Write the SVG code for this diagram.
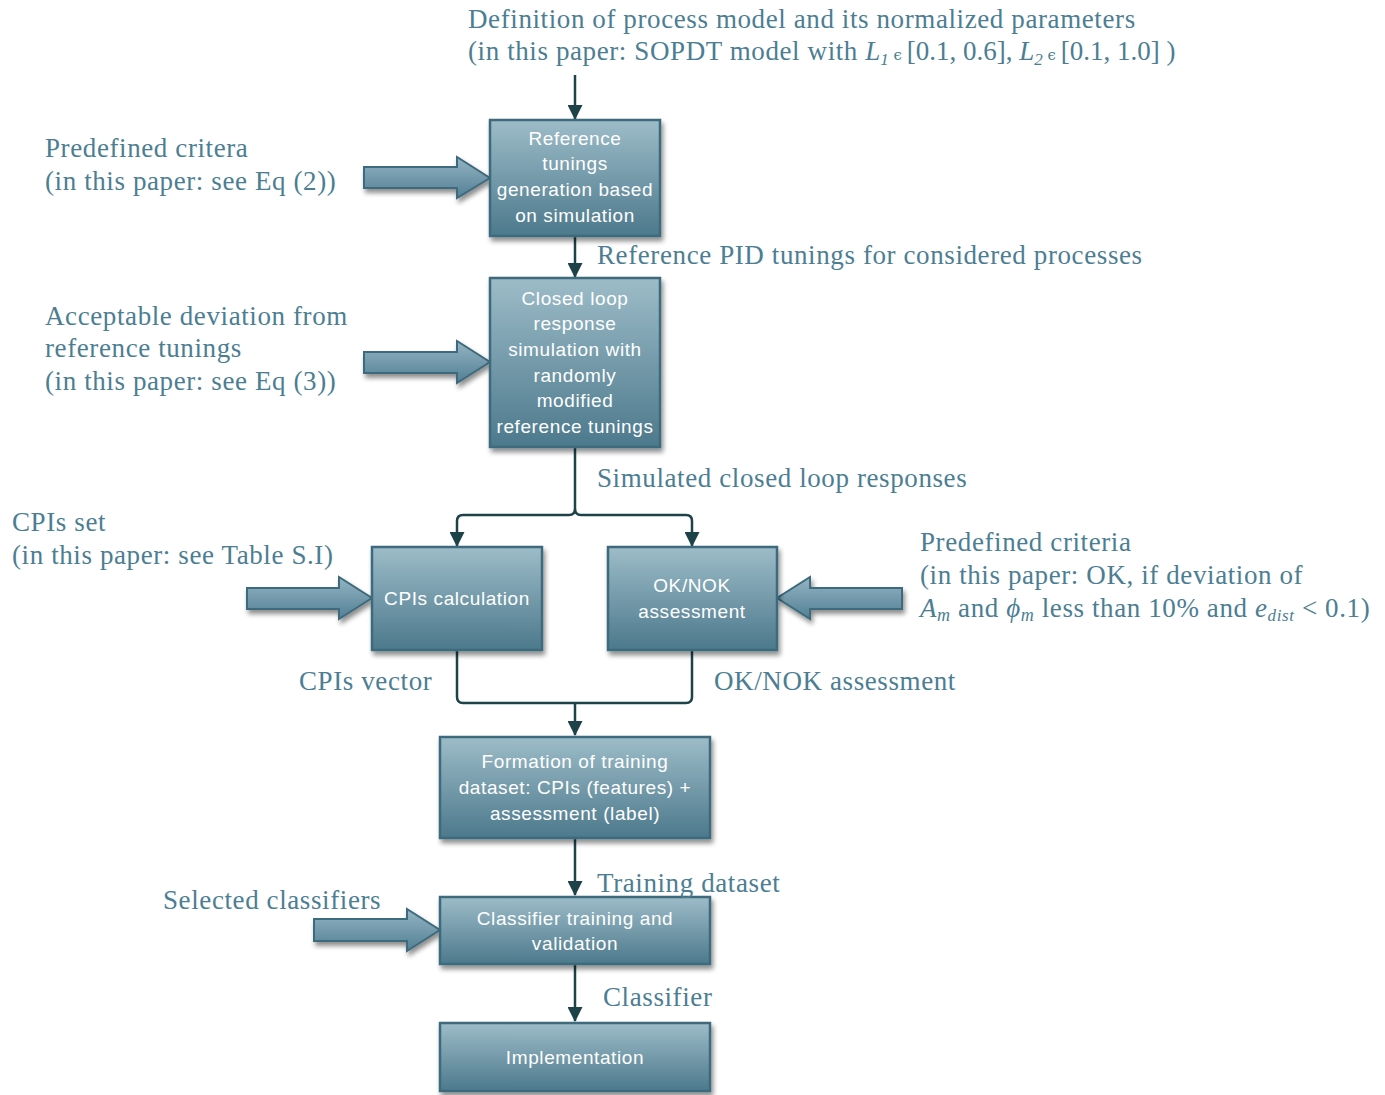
<svg xmlns="http://www.w3.org/2000/svg" width="1385" height="1095" viewBox="0 0 1385 1095">
<defs>
<linearGradient id="boxg" x1="0" y1="0" x2="0" y2="1">
<stop offset="0" stop-color="#9dbcc8"/>
<stop offset="1" stop-color="#4c798c"/>
</linearGradient>
<linearGradient id="arrg2" x1="0" y1="0" x2="0" y2="1">
<stop offset="0" stop-color="#94b5c3"/>
<stop offset="1" stop-color="#527f95"/>
</linearGradient>
<filter id="sh" x="-10%" y="-10%" width="125%" height="130%">
<feGaussianBlur in="SourceAlpha" stdDeviation="2.5"/>
<feOffset dx="2" dy="4" result="b"/>
<feComponentTransfer><feFuncA type="linear" slope="0.45"/></feComponentTransfer>
<feMerge><feMergeNode/><feMergeNode in="SourceGraphic"/></feMerge>
</filter>
<marker id="ah" markerWidth="15" markerHeight="15" viewBox="0 0 15 15" refX="14" refY="7.5" orient="auto" markerUnits="userSpaceOnUse">
<path d="M0,0 L15,7.5 L0,15 Z" fill="#1d4349"/>
</marker>
</defs>
<style>
.box{fill:url(#boxg);stroke:#3e6a7b;stroke-width:2.5;filter:url(#sh)}
.bt{font-family:"Liberation Sans",Arial,sans-serif;font-size:19px;letter-spacing:0.6px;fill:#ffffff;text-anchor:middle}
.lbl{font-family:"Liberation Serif","Times New Roman",serif;font-size:27px;letter-spacing:0.6px;fill:#4b7e93}
.con{fill:none;stroke:#1d4349;stroke-width:2.5}
.blk{fill:url(#arrg2);stroke:#3e6a7b;stroke-width:2;filter:url(#sh)}
.it{font-style:italic}
.m{letter-spacing:0}
</style>

<g id="connectors">
<path class="con" d="M575,75 V119" marker-end="url(#ah)"/>
<path class="con" d="M575,236 V277" marker-end="url(#ah)"/>
<path class="con" d="M575,448 V509 Q575,515 569,515 H463 Q457,515 457,521 V546" marker-end="url(#ah)"/>
<path class="con" d="M575,509 Q575,515 581,515 H686 Q692,515 692,521 V546" marker-end="url(#ah)"/>
<path class="con" d="M457,651 V697 Q457,703 463,703 H686 Q692,703 692,697 V651"/>
<path class="con" d="M575,703 V735" marker-end="url(#ah)"/>
<path class="con" d="M575,839 V895" marker-end="url(#ah)"/>
<path class="con" d="M575,965 V1021" marker-end="url(#ah)"/>
</g>

<g id="input-arrows">
<path class="blk" d="M364,167 H457 V157 L490,178 L457,198 V188 H364 Z"/>
<path class="blk" d="M364,352 H457 V341 L490,362 L457,383 V373 H364 Z"/>
<path class="blk" d="M247,588 H339 V577 L372,598 L339,619 V609 H247 Z"/>
<path class="blk" d="M902,588 H810 V577 L777,598 L810,619 V609 H902 Z"/>
<path class="blk" d="M314,919 H407 V909 L440,930 L407,951 V941 H314 Z"/>
</g>

<g id="n-reference">
<rect class="box" x="490" y="120" width="170" height="116"/>
<text class="bt" x="575" y="145">Reference</text>
<text class="bt" x="575" y="170">tunings</text>
<text class="bt" x="575" y="196">generation based</text>
<text class="bt" x="575" y="222">on simulation</text>
</g>

<g id="n-closedloop">
<rect class="box" x="490" y="278" width="170" height="169"/>
<text class="bt" x="575" y="305">Closed loop</text>
<text class="bt" x="575" y="330">response</text>
<text class="bt" x="575" y="356">simulation with</text>
<text class="bt" x="575" y="382">randomly</text>
<text class="bt" x="575" y="407">modified</text>
<text class="bt" x="575" y="433">reference tunings</text>
</g>

<g id="n-cpis">
<rect class="box" x="372" y="547" width="170" height="103"/>
<text class="bt" x="457" y="605">CPIs calculation</text>
</g>

<g id="n-oknok">
<rect class="box" x="608" y="547" width="169" height="103"/>
<text class="bt" x="692" y="592">OK/NOK</text>
<text class="bt" x="692" y="618">assessment</text>
</g>

<g id="n-formation">
<rect class="box" x="440" y="737" width="270" height="101"/>
<text class="bt" x="575" y="768">Formation of training</text>
<text class="bt" x="575" y="794">dataset: CPIs (features) +</text>
<text class="bt" x="575" y="820">assessment (label)</text>
</g>

<g id="n-classifier">
<rect class="box" x="440" y="897" width="270" height="67"/>
<text class="bt" x="575" y="925">Classifier training and</text>
<text class="bt" x="575" y="950">validation</text>
</g>

<g id="n-impl">
<rect class="box" x="440" y="1023" width="270" height="68"/>
<text class="bt" x="575" y="1064">Implementation</text>
</g>

<g id="labels">
<text class="lbl" x="468" y="28">Definition of process model and its normalized parameters</text>
<text class="lbl" x="468" y="60">(in this paper: SOPDT model with <tspan class="m"><tspan class="it">L<tspan font-size="17" dy="5">1</tspan></tspan><tspan dy="-5" font-family="DejaVu Serif,serif" font-size="15"> ϵ </tspan>[0.1, 0.6], <tspan class="it">L<tspan font-size="17" dy="5">2</tspan></tspan><tspan dy="-5" font-family="DejaVu Serif,serif" font-size="15"> ϵ </tspan>[0.1, 1.0] )</tspan></text>

<text class="lbl" x="45" y="157">Predefined critera</text>
<text class="lbl" x="45" y="190">(in this paper: see Eq (2))</text>

<text class="lbl" x="597" y="264">Reference PID tunings for considered processes</text>

<text class="lbl" x="45" y="325">Acceptable deviation from</text>
<text class="lbl" x="45" y="357">reference tunings</text>
<text class="lbl" x="45" y="390">(in this paper: see Eq (3))</text>

<text class="lbl" x="597" y="487">Simulated closed loop responses</text>

<text class="lbl" x="12" y="531">CPIs set</text>
<text class="lbl" x="12" y="564">(in this paper: see Table S.I)</text>

<text class="lbl" x="920" y="551">Predefined criteria</text>
<text class="lbl" x="920" y="584">(in this paper: OK, if deviation of</text>
<text class="lbl" x="920" y="617"><tspan class="it">A<tspan font-size="18" dy="4">m</tspan></tspan><tspan dy="-4"> and </tspan><tspan class="it">ϕ<tspan font-size="18" dy="4">m</tspan></tspan><tspan dy="-4"> less than 10% and </tspan><tspan class="it">e<tspan font-size="17" dy="4">dist</tspan></tspan><tspan dy="-4"> &lt; 0.1)</tspan></text>

<text class="lbl" x="299" y="690">CPIs vector</text>
<text class="lbl" x="714" y="690">OK/NOK assessment</text>

<text class="lbl" x="597" y="892">Training dataset</text>
<text class="lbl" x="163" y="909">Selected classifiers</text>
<text class="lbl" x="603" y="1006">Classifier</text>
</g>
</svg>
